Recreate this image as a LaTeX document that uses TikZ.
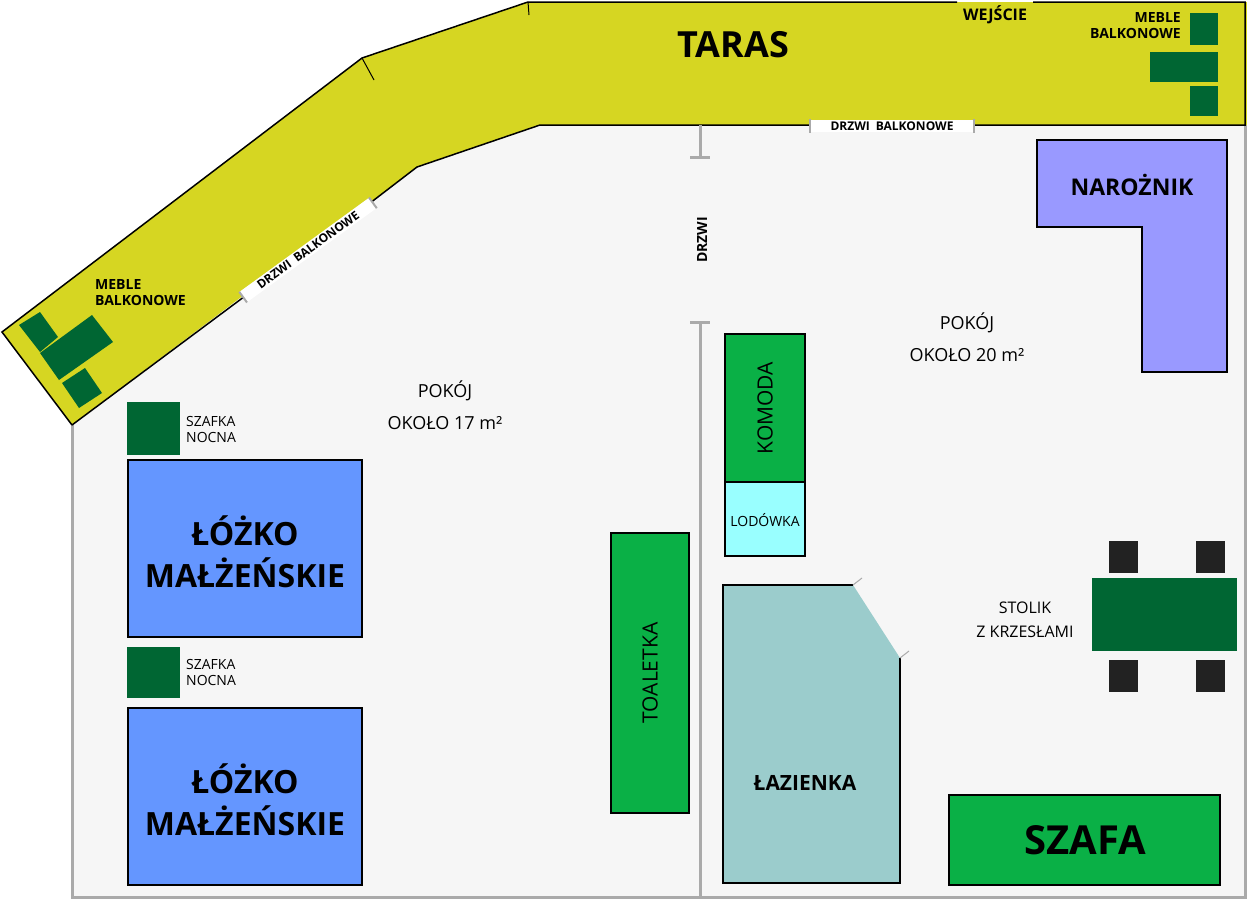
\documentclass[tikz,border=0pt]{standalone}
\usepackage{fontspec}
\setmainfont{Open Sans}
\usetikzlibrary{calc}
\definecolor{taras}{RGB}{214,214,34}
\definecolor{podloga}{RGB}{246,246,246}
\definecolor{sciana}{RGB}{170,170,170}
\definecolor{ciemnyziel}{RGB}{0,102,51}
\definecolor{ziel}{RGB}{10,176,70}
\definecolor{lozko}{RGB}{100,150,255}
\definecolor{naroz}{RGB}{153,153,255}
\definecolor{lodow}{RGB}{153,255,255}
\definecolor{lazien}{RGB}{155,204,204}
\definecolor{krzeslo}{RGB}{34,34,34}
\begin{document}
\begin{tikzpicture}[x=1pt,y=-1pt,
	mebel/.style={draw=black,line width=1.5pt},
	duzy/.style={font=\bfseries\fontsize{32}{42}\selectfont,align=center},
	maly/.style={font=\fontsize{14}{16}\selectfont,align=left,inner sep=0pt},
	etykieta/.style={font=\bfseries\fontsize{14}{16}\selectfont,inner sep=0pt},
	pokoj/.style={font=\fontsize{18}{32}\selectfont,align=center},
	drzwi/.style={fill=white,font=\bfseries\fontsize{12}{13}\selectfont,inner sep=2pt}]
		\useasboundingbox (0,0) rectangle (1247,900);
		\fill [white] (0,0) rectangle (1247,900);

		%podloga
		\fill [podloga] (72,425) -- (240,298) -- (374,200) -- (417,167) -- (540,125) -- (1245,125) -- (1245,897) -- (72,897) -- cycle;
		\draw [sciana, line width=3pt] (72,425) -- (72,897) -- (1245,897) -- (1245,125);

		%taras
		\fill [taras] (2,332) -- (362,58) -- (528,2) -- (1247,2) -- (1247,125) -- (540,125) -- (417,167) -- (374,200) -- (240,298) -- (72,425) -- cycle;
		\draw [line width=1.5pt] (72,425) -- (2,332) -- (362,58) -- (528,2) -- (957,2);
		\draw [line width=1.5pt] (1033,2) -- (1245,2) -- (1245,125) -- (540,125) -- (417,167) -- (374,200) -- (72,425);
		\draw [line width=1pt] (362,58) -- (374,80);
		\draw [line width=1pt] (528,2) -- (529,15);

		%sciana wewnetrzna
		\draw [sciana, line width=3pt] (700,125) -- (700,157);
		\draw [sciana, line width=3pt] (690,157) -- (710,157);
		\draw [sciana, line width=3pt] (700,322) -- (700,897);
		\draw [sciana, line width=3pt] (690,322) -- (710,322);
		\node (drzwi) [rotate=90, etykieta] at (702,240) {DRZWI};

		%drzwi balkonowe
		\node (drzwiB) [drzwi, minimum width=164pt] at (892,126) {DRZWI\hspace{6pt}BALKONOWE};
		\draw [sciana, line width=2pt] (drzwiB.north west) -- (drzwiB.south west);
		\draw [sciana, line width=2pt] (drzwiB.north east) -- (drzwiB.south east);
		\node (drzwiA) [drzwi, rotate=36, minimum width=160pt] at (308,250) {DRZWI\hspace{6pt}BALKONOWE};
		\draw [sciana, line width=2pt] (drzwiA.north west) -- (drzwiA.south west);
		\draw [sciana, line width=2pt] (drzwiA.north east) -- (drzwiA.south east);

		\node (taras) [font=\bfseries\fontsize{36}{40}\selectfont] at (733,45) {TARAS};
		\node (wejscie) [etykieta, font=\bfseries\fontsize{16}{18}\selectfont] at (995,15) {WEJŚCIE};

		%meble balkonowe
		\fill [ciemnyziel] (1190,13) rectangle (1218,45);
		\fill [ciemnyziel] (1150,52) rectangle (1218,82);
		\fill [ciemnyziel] (1190,86) rectangle (1218,116);
		\node (mebleP) [etykieta, align=right, anchor=east] at (1181,26) {MEBLE\\BALKONOWE};
		\fill [ciemnyziel] (19,325) -- (40,312) -- (58,337) -- (40,352) -- cycle;
		\fill [ciemnyziel] (40,353) -- (92,315) -- (113,342) -- (59,380) -- cycle;
		\fill [ciemnyziel] (62,383) -- (85,368) -- (102,393) -- (79,408) -- cycle;
		\node (mebleL) [etykieta, align=left, anchor=west] at (95,293) {MEBLE\\BALKONOWE};

		%pokoj 17
		\node (pokoj17) [pokoj] at (445,405) {POKÓJ\\OKOŁO 17 m²};
		\fill [ciemnyziel] (127,402) rectangle (180,455);
		\node (szafka1) [maly, anchor=west] at (186,429) {SZAFKA\\NOCNA};
		\fill [ciemnyziel] (127,647) rectangle (180,698);
		\node (szafka2) [maly, anchor=west] at (186,672) {SZAFKA\\NOCNA};
		\draw [mebel, fill=lozko] (128,460) rectangle (362,637);
		\node (lozko1) [duzy] at (245,552) {ŁÓŻKO\\MAŁŻEŃSKIE};
		\draw [mebel, fill=lozko] (128,708) rectangle (362,885);
		\node (lozko2) [duzy] at (245,800) {ŁÓŻKO\\MAŁŻEŃSKIE};
		\draw [mebel, fill=ziel] (611,533) rectangle (689,813);
		\node (toaletka) [rotate=90, font=\fontsize{21}{24}\selectfont] at (650,673) {TOALETKA};

		%pokoj 20
		\node (pokoj20) [pokoj] at (967,337) {POKÓJ\\OKOŁO 20 m²};
		\draw [mebel, fill=ziel] (725,334) rectangle (805,482);
		\node (komoda) [rotate=90, font=\fontsize{21}{24}\selectfont] at (765,408) {KOMODA};
		\draw [mebel, fill=lodow] (725,482) rectangle (805,556);
		\node (lodowka) [font=\fontsize{14}{15}\selectfont, inner sep=0pt] at (765,520) {LODÓWKA};
		\fill [lazien] (723,585) -- (853,585) -- (900,658) -- (900,883) -- (723,883) -- cycle;
		\draw [line width=1.5pt] (853,585) -- (723,585) -- (723,883) -- (900,883) -- (900,658);
		\draw [sciana, line width=1pt] (853,585) -- (862,578);
		\draw [sciana, line width=1pt] (900,658) -- (909,651);
		\node (lazienka) [font=\bfseries\fontsize{21}{24}\selectfont] at (805,783) {ŁAZIENKA};
		\draw [mebel, fill=naroz] (1037,140) -- (1227,140) -- (1227,372) -- (1142,372) -- (1142,227) -- (1037,227) -- cycle;
		\node (naroznik) [font=\bfseries\fontsize{23}{26}\selectfont] at (1132,185) {NAROŻNIK};
		\fill [ciemnyziel] (1092,578) rectangle (1237,651);
		\foreach \kx in {1109,1196} {
			\fill [krzeslo] (\kx,541) rectangle ++(29,32);
			\fill [krzeslo] (\kx,660) rectangle ++(29,32);
		}
		\node (stolik) [maly, font=\fontsize{16}{18}\selectfont, align=center] at (1025,620) {STOLIK\\[6pt]Z KRZESŁAMI};
		\draw [mebel, fill=ziel] (949,795) rectangle (1220,885);
		\node (szafa) [font=\bfseries\fontsize{40}{44}\selectfont] at (1085,840) {SZAFA};
\end{tikzpicture}
\end{document}
